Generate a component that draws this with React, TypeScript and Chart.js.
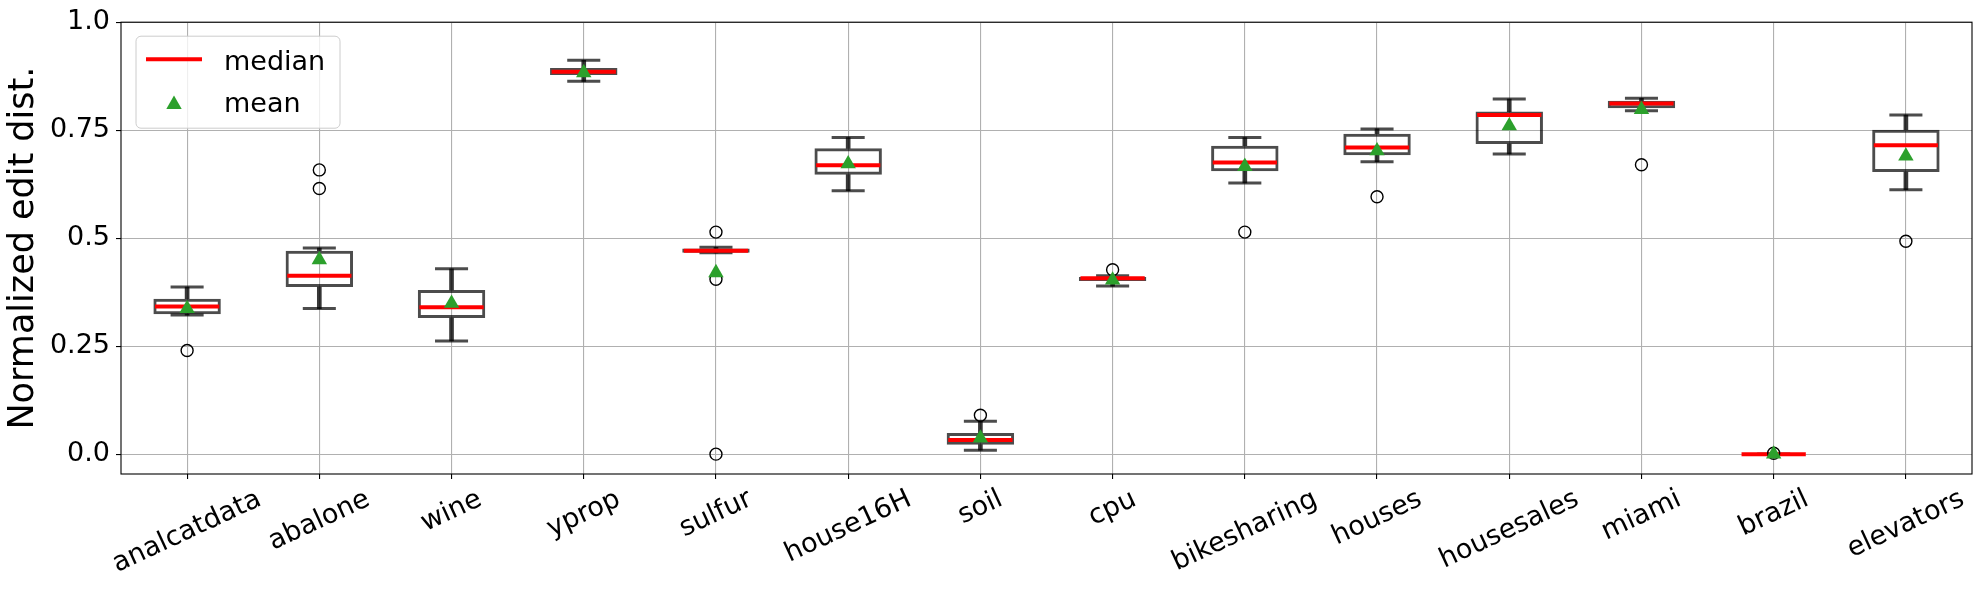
import React, { useEffect, useRef } from 'react';
import { Chart, registerables } from 'chart.js';

Chart.register(...registerables);

// ---------- data ----------
const categories = [
  'analcatdata', 'abalone', 'wine', 'yprop', 'sulfur', 'house16H', 'soil',
  'cpu', 'bikesharing', 'houses', 'housesales', 'miami', 'brazil', 'elevators',
];
const whiskerLow = [0.322, 0.337, 0.262, 0.863, 0.466, 0.610, 0.009, 0.389, 0.628, 0.677, 0.695, 0.795, 0.0, 0.612];
const q1 = [0.324, 0.387, 0.315, 0.878, 0.466, 0.647, 0.022, 0.401, 0.655, 0.692, 0.718, 0.801, 0.0, 0.653];
const medians = [0.342, 0.413, 0.340, 0.885, 0.471, 0.669, 0.033, 0.407, 0.675, 0.710, 0.785, 0.812, 0.0, 0.715];
const q3 = [0.360, 0.471, 0.380, 0.894, 0.476, 0.708, 0.049, 0.410, 0.714, 0.742, 0.793, 0.818, 0.0, 0.751];
const whiskerHigh = [0.387, 0.477, 0.429, 0.912, 0.479, 0.733, 0.076, 0.413, 0.733, 0.753, 0.822, 0.824, 0.0, 0.785];
const means = [0.337, 0.450, 0.349, 0.883, 0.420, 0.672, 0.037, 0.403, 0.666, 0.702, 0.760, 0.798, 0.0, 0.690];
const outlierCategories = [
  'analcatdata', 'abalone', 'abalone', 'sulfur', 'sulfur', 'sulfur', 'soil',
  'cpu', 'bikesharing', 'houses', 'miami', 'brazil', 'elevators',
];
const outlierValues = [0.240, 0.658, 0.615, 0.514, 0.405, 0.0, 0.090, 0.427, 0.514, 0.596, 0.670, 0.002, 0.493];
const yTickValues = [0, 0.25, 0.5, 0.75, 1.0];
const yTickLabels = ['0.0', '0.25', '0.5', '0.75', '1.0'];
const legendLabels = ['median', 'mean'];
const yTitle = 'Normalized edit dist.';

// ---------- styles ----------
const FONT = '"DejaVu Sans", "Liberation Sans", sans-serif';
const BOX = 'rgba(0,0,0,0.7)';
const WHISK = 'rgba(0,0,0,0.78)';
const RED = '#ff0000';
const GREEN = '#2ca02c';
const GRID = '#b0b0b0';
const TICK_SIZE = 27;

const catWidth = (chart: any) => chart.scales.x.width / categories.length;

const frameAndLabels = {
  id: 'frameAndLabels',
  afterDraw(chart: any) {
    const { ctx, chartArea } = chart;
    const xs = chart.scales.x;
    // spines
    ctx.save();
    ctx.strokeStyle = '#000';
    ctx.lineWidth = 1.1;
    ctx.strokeRect(chartArea.left, chartArea.top, chartArea.right - chartArea.left, chartArea.bottom - chartArea.top);
    ctx.restore();

    // rotated x tick labels (centred on tick like matplotlib)
    ctx.save();
    ctx.font = `${TICK_SIZE}px ${FONT}`;
    ctx.fillStyle = '#000';
    ctx.textAlign = 'center';
    ctx.textBaseline = 'middle';
    const a = (25 * Math.PI) / 180;
    xs.ticks.forEach((t: any, i: number) => {
      const label = xs.getLabelForValue(t.value);
      const x = xs.getPixelForTick(i);
      const w = ctx.measureText(label).width;
      const h = 31;
      const bh = w * Math.sin(a) + h * Math.cos(a);
      const cy = chartArea.bottom + 10 + bh / 2;
      ctx.save();
      ctx.translate(x, cy);
      ctx.rotate(-a);
      ctx.fillText(label, 0, 0);
      ctx.restore();
    });
    ctx.restore();

    // legend
    const L = chartArea.left + 15;
    const T = chartArea.top + 14;
    const W = 204;
    const H = 92;
    const r = 5;
    ctx.save();
    ctx.beginPath();
    ctx.moveTo(L + r, T);
    ctx.lineTo(L + W - r, T);
    ctx.arcTo(L + W, T, L + W, T + r, r);
    ctx.lineTo(L + W, T + H - r);
    ctx.arcTo(L + W, T + H, L + W - r, T + H, r);
    ctx.lineTo(L + r, T + H);
    ctx.arcTo(L, T + H, L, T + H - r, r);
    ctx.lineTo(L, T + r);
    ctx.arcTo(L, T, L + r, T, r);
    ctx.closePath();
    ctx.fillStyle = 'rgba(255,255,255,0.8)';
    ctx.fill();
    ctx.strokeStyle = '#cccccc';
    ctx.lineWidth = 1;
    ctx.stroke();

    ctx.beginPath();
    ctx.moveTo(L + 10, T + 23);
    ctx.lineTo(L + 66, T + 23);
    ctx.strokeStyle = RED;
    ctx.lineWidth = 4;
    ctx.stroke();

    const tr = 8.9;
    const tx = L + 38;
    const ty = T + 66 + tr / 4;
    ctx.beginPath();
    ctx.moveTo(tx, ty - tr);
    ctx.lineTo(tx + tr * Math.sin((2 * Math.PI) / 3), ty - tr * Math.cos((2 * Math.PI) / 3));
    ctx.lineTo(tx + tr * Math.sin((4 * Math.PI) / 3), ty - tr * Math.cos((4 * Math.PI) / 3));
    ctx.closePath();
    ctx.fillStyle = GREEN;
    ctx.fill();

    ctx.font = `${TICK_SIZE}px ${FONT}`;
    ctx.fillStyle = '#000';
    ctx.textAlign = 'left';
    ctx.textBaseline = 'alphabetic';
    ctx.fillText(legendLabels[0], L + 88, T + 34);
    ctx.fillText(legendLabels[1], L + 88, T + 76);
    ctx.restore();
  },
};

export default function App() {
  const ref = useRef<HTMLCanvasElement | null>(null);

  useEffect(() => {
    if (!ref.current) return;
    const chart = new Chart(ref.current, {
      type: 'bar',
      data: {
        labels: categories,
        datasets: [
          {
            type: 'bar',
            label: 'box',
            data: categories.map((_, i) => [q1[i], q3[i]]),
            backgroundColor: 'rgba(0,0,0,0)',
            borderColor: BOX,
            borderWidth: 3,
            borderSkipped: false,
            barPercentage: 0.51,
            categoryPercentage: 1,
            grouped: false,
            order: 6,
          } as any,
          {
            type: 'bar',
            label: 'whiskerLow',
            data: categories.map((_, i) => [whiskerLow[i], q1[i]]),
            backgroundColor: WHISK,
            borderWidth: 0,
            barThickness: 4,
            grouped: false,
            order: 7,
          } as any,
          {
            type: 'bar',
            label: 'whiskerHigh',
            data: categories.map((_, i) => [q3[i], whiskerHigh[i]]),
            backgroundColor: WHISK,
            borderWidth: 0,
            barThickness: 4,
            grouped: false,
            order: 7,
          } as any,
          {
            type: 'line',
            label: 'capLow',
            data: whiskerLow,
            showLine: false,
            pointStyle: 'line',
            pointRadius: (c: any) => catWidth(c.chart) * 0.125,
            pointBorderWidth: 3,
            pointBorderColor: BOX,
            order: 5,
          } as any,
          {
            type: 'line',
            label: 'capHigh',
            data: whiskerHigh,
            showLine: false,
            pointStyle: 'line',
            pointRadius: (c: any) => catWidth(c.chart) * 0.125,
            pointBorderWidth: 3,
            pointBorderColor: BOX,
            order: 5,
          } as any,
          {
            type: 'line',
            label: 'median',
            data: medians,
            showLine: false,
            pointStyle: 'line',
            pointRadius: (c: any) => catWidth(c.chart) * 0.243,
            pointBorderWidth: 4,
            pointBorderColor: RED,
            order: 3,
          } as any,
          {
            type: 'line',
            label: 'outliers',
            data: outlierCategories.map((c, i) => ({ x: c, y: outlierValues[i] })),
            showLine: false,
            pointStyle: 'circle',
            pointRadius: 6,
            pointBorderWidth: 1.4,
            pointBorderColor: '#000',
            pointBackgroundColor: 'rgba(0,0,0,0)',
            order: 2,
          } as any,
          {
            type: 'line',
            label: 'mean',
            data: means,
            showLine: false,
            pointStyle: 'triangle',
            pointRadius: 8.9,
            pointBorderWidth: 0,
            pointBackgroundColor: GREEN,
            pointBorderColor: GREEN,
            order: 1,
          } as any,
        ],
      },
      options: {
        animation: false,
        responsive: true,
        maintainAspectRatio: false,
        devicePixelRatio: 1,
        events: [],
        layout: { padding: { left: 0, top: 20, right: 9, bottom: 0 } },
        plugins: {
          legend: { display: false },
          tooltip: { enabled: false },
        },
        scales: {
          x: {
            type: 'category',
            offset: true,
            grid: {
              offset: false,
              color: GRID,
              lineWidth: 1.1,
              tickColor: '#000',
              tickLength: 5,
            },
            border: { display: false },
            ticks: { display: false },
            afterFit: (s: any) => {
              s.height = 115;
            },
          },
          y: {
            type: 'linear',
            min: -0.046,
            max: 1.0,
            grid: {
              color: GRID,
              lineWidth: 1.1,
              tickColor: '#000',
              tickLength: 5,
            },
            border: { display: false },
            ticks: {
              stepSize: 0.25,
              includeBounds: false,
              color: '#000',
              padding: 6,
              font: { family: FONT, size: TICK_SIZE },
              callback: (v: any) => {
                const i = yTickValues.findIndex((t) => Math.abs(t - Number(v)) < 1e-9);
                return i >= 0 ? yTickLabels[i] : '';
              },
            },
            title: {
              display: true,
              text: yTitle,
              color: '#000',
              font: { family: FONT, size: 35 },
              padding: { top: 3, bottom: 0 },
            },
            afterFit: (s: any) => {
              s.width = 121;
            },
          },
        },
      } as any,
      plugins: [frameAndLabels],
    });
    return () => chart.destroy();
  }, []);

  return (
    <div style={{ position: 'fixed', left: 0, top: 0, width: 1981, height: 589, background: '#fff' }}>
      <canvas ref={ref} />
    </div>
  );
}
